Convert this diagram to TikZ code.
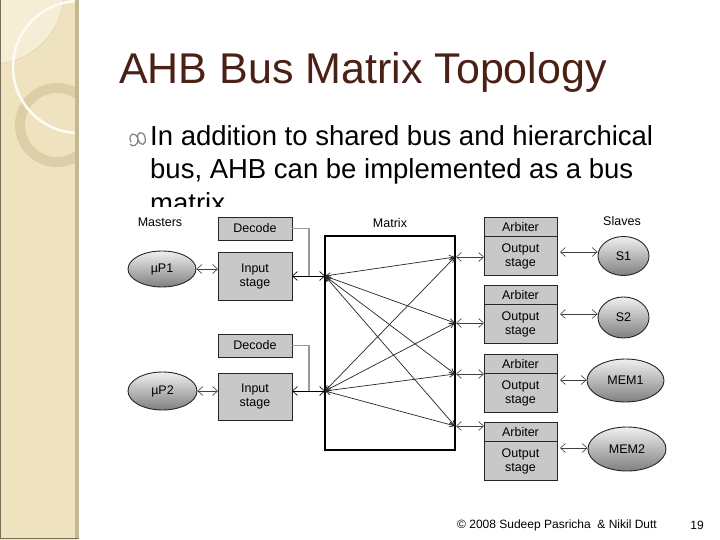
\documentclass[tikz,border=0pt]{standalone}
\usepackage{fontspec}
\setmainfont{Liberation Sans}
\usetikzlibrary{positioning,arrows.meta,shapes.geometric}
\definecolor{titulo}{HTML}{4B2016}
\definecolor{beige}{HTML}{EFE2BE}
\definecolor{beigeclaro}{HTML}{F5EDD5}
\definecolor{borde}{HTML}{C6B793}
\definecolor{anillo}{HTML}{DCCEA6}
\definecolor{cajagris}{HTML}{C8C8C8}
\tikzset{
  caja/.style={draw=black!85, fill=cajagris, line width=0.9pt, minimum width=74,
    minimum height=23, inner sep=0pt, outer sep=0pt, align=center,
    font=\fontsize{12.5}{14}\selectfont},
  nodo/.style={ellipse, draw=black!85, line width=0.9pt, top color=black!6,
    bottom color=black!50, inner sep=0pt, font=\fontsize{12.5}{14}\selectfont},
  flecha/.style={<->, >={Straight Barb[length=5pt,width=9pt]}, line width=0.6pt,
    draw=black!75},
  cruce/.style={<->, >={Straight Barb[length=5pt,width=5pt]}, line width=0.7pt,
    draw=black!85},
  etiqueta/.style={font=\fontsize{12.5}{14}\selectfont},
  parrafo/.style={anchor=base west, inner sep=0pt, font=\fontsize{27.5}{33}\selectfont}
}
\begin{document}
\begin{tikzpicture}[x=1pt, y=-1pt]
  \fill[white] (0,0) rectangle (720,540);
  \useasboundingbox (0,0) rectangle (720,540);

  % Barra lateral con los circulos
  \begin{scope}
    \clip (0,0) rectangle (77,540);
    \fill[beige] (0,0) rectangle (77,540);
    \fill[beigeclaro] (-8,-8) circle (72);
    \draw[borde!70, line width=0.4pt] (-8,-8) circle (72);
    \draw[anillo, line width=10pt] (57,125) circle (37);
    \draw[white!85!beige, line width=2.5pt] (79,67) circle (66);
  \end{scope}
  \fill[borde] (75,0) rectangle (79,538);
  \draw[borde!60!black, line width=0.8pt] (0.4,0) -- (0.4,538) -- (79,538);

  % Titulo y texto
  \node[anchor=base west, inner sep=0pt, text=titulo,
        font=\fontsize{43}{50}\selectfont] (tit) at (119,84) {AHB Bus Matrix Topology};
  \draw[black!50, line width=1.2pt] (131,142) .. controls (127,133) and (136,131) .. (138,139)
       .. controls (140,147) and (147,146) .. (145,137)
       .. controls (143,130) and (136,132) .. (138,139)
       .. controls (139,145) and (132,148) .. (130,144);
  \node[parrafo] (txt1) at (150,146) {In addition to shared bus and hierarchical};
  \node[parrafo] (txt2) at (150,179) {bus, AHB can be implemented as a bus};
  \node[parrafo] (txt3) at (150,212) {matrix};
  \fill[white] (112,207) rectangle (700,492);

  % Maestros
  \node[etiqueta] (mast) at (160,222) {Masters};
  \node[caja] (dec1) at (255,228.5) {Decode};
  \node[caja, minimum height=48] (in1) at (255,276) {Input\\stage};
  \node[caja] (dec2) at (255,345.5) {Decode};
  \node[caja, minimum height=47] (in2) at (255,396.5) {Input\\stage};
  \node[nodo, minimum width=68, minimum height=36] (mp1) at (162,269) {µP1};
  \node[nodo, minimum width=69, minimum height=38] (mp2) at (162.5,391) {µP2};

  % Matriz
  \node[etiqueta] (matl) at (390,223) {Matrix};
  \node[draw, line width=1.6pt, minimum width=130, minimum height=214, inner sep=0pt]
        (mat) at (390,343) {};
  \coordinate (pm1) at (325,276);
  \coordinate (pm2) at (325,391);
  \coordinate (ps1) at (455,257);
  \coordinate (ps2) at (455,323);
  \coordinate (ps3) at (455,374);
  \coordinate (ps4) at (455,426);
  \coordinate (j1) at (309,276);
  \coordinate (j2) at (309,391);

  % Esclavos
  \node[etiqueta] (slav) at (622,221) {Slaves};
  \node[caja, minimum width=73, minimum height=19] (arb1) at (520.5,227) {Arbiter};
  \node[caja, minimum width=73, minimum height=39, below=0pt of arb1] (out1) {Output\\stage};
  \node[caja, minimum width=73, minimum height=19] (arb2) at (520.5,295) {Arbiter};
  \node[caja, minimum width=73, minimum height=39, below=0pt of arb2] (out2) {Output\\stage};
  \node[caja, minimum width=73, minimum height=19] (arb3) at (520.5,364) {Arbiter};
  \node[caja, minimum width=73, minimum height=39, below=0pt of arb3] (out3) {Output\\stage};
  \node[caja, minimum width=73, minimum height=19] (arb4) at (520.5,432) {Arbiter};
  \node[caja, minimum width=73, minimum height=39, below=0pt of arb4] (out4) {Output\\stage};
  \node[nodo, minimum width=51, minimum height=39] (s1) at (623.5,256) {S1};
  \node[nodo, minimum width=51, minimum height=41] (s2) at (623.5,317.5) {S2};
  \node[nodo, minimum width=77, minimum height=43] (mem1) at (625.5,380.5) {MEM1};
  \node[nodo, minimum width=78, minimum height=44] (mem2) at (627,449) {MEM2};

  % Conexiones de los maestros
  \draw[flecha] (mp1.east) -- (mp1.east -| in1.west);
  \draw[flecha] (mp2.east) -- (mp2.east -| in2.west);
  \draw[black!40, line width=1.2pt] (dec1.east) -| (j1);
  \draw[black!40, line width=1.2pt] (dec2.east) -| (j2);
  \draw[flecha, draw=black] (in1.east |- pm1) -- (pm1);
  \draw[flecha, draw=black] (in2.east |- pm2) -- (pm2);

  % Cruces de la matriz
  \draw[cruce] (pm1) -- (ps1);
  \draw[cruce] (pm1) -- (ps2);
  \draw[cruce] (pm1) -- (ps3);
  \draw[cruce] (pm1) -- (ps4);
  \draw[cruce] (pm2) -- (ps1);
  \draw[cruce] (pm2) -- (ps2);
  \draw[cruce] (pm2) -- (ps3);
  \draw[cruce] (pm2) -- (ps4);

  % Conexiones de los esclavos
  \draw[flecha, shorten <=1pt] (ps1) -- (ps1 -| out1.west);
  \draw[flecha, shorten <=1pt] (ps2) -- (ps2 -| out2.west);
  \draw[flecha, shorten <=1pt] (ps3) -- (ps3 -| out3.west);
  \draw[flecha, shorten <=1pt] (ps4) -- (ps4 -| arb4.west);
  \draw[flecha, shorten <=3pt] (out1.east |- 0,252) -- (s1.west |- 0,252);
  \draw[flecha, shorten <=3pt] (out2.east |- 0,314) -- (s2.west |- 0,314);
  \draw[flecha, shorten <=3pt] (out3.east |- 0,380) -- (mem1.west |- 0,380);
  \draw[flecha, shorten <=3pt] (out4.east |- 0,448) -- (mem2.west |- 0,448);

  % Pie
  \node[etiqueta, font=\fontsize{12}{14}\selectfont] (pie) at (557,525)
        {© 2008 Sudeep Pasricha~ \& Nikil Dutt};
  \node[etiqueta, font=\fontsize{12}{14}\selectfont] (num) at (697,525) {19};
\end{tikzpicture}
\end{document}
